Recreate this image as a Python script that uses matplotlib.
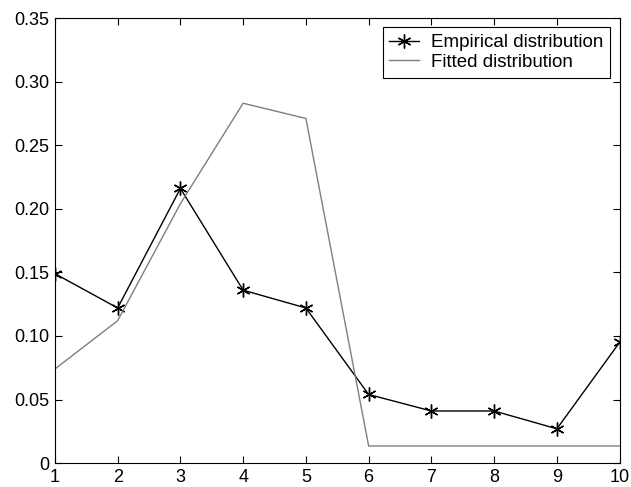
import matplotlib
matplotlib.use("Agg")
import matplotlib.pyplot as plt

plt.rcParams['font.family'] = ['Liberation Sans', 'DejaVu Sans']

x = [1, 2, 3, 4, 5, 6, 7, 8, 9, 10]
empirical = [0.149, 0.122, 0.216, 0.136, 0.122, 0.054, 0.041, 0.041, 0.027, 0.095]
fitted = [0.074, 0.112, 0.204, 0.283, 0.271, 0.0135, 0.0135, 0.0135, 0.0135, 0.0135]
xticks = [1, 2, 3, 4, 5, 6, 7, 8, 9, 10]
yticks = [0, 0.05, 0.10, 0.15, 0.20, 0.25, 0.30, 0.35]
yticklabels = ['0', '0.05', '0.10', '0.15', '0.20', '0.25', '0.30', '0.35']

fig = plt.figure(figsize=(6.31, 4.87), dpi=100)
ax = fig.add_axes([0.087, 0.049, 0.895, 0.914])

ax.plot(x, empirical, color='black', lw=1.0, marker=(6, 2, 0), markersize=10,
        markeredgewidth=1.0, label='Empirical distribution')
ax.plot(x, fitted, color='#7f7f7f', lw=1.0, label='Fitted distribution')

ax.set_xlim(1, 10)
ax.set_ylim(0, 0.35)
ax.set_xticks(xticks)
ax.set_yticks(yticks)
ax.set_yticklabels(yticklabels)
ax.tick_params(direction='in', top=True, right=True, length=5, labelsize=13, width=0.8, pad=4)
for s in ax.spines.values():
    s.set_linewidth(0.8)

leg = ax.legend(loc='upper right', fontsize=13.5, fancybox=False, framealpha=1,
                edgecolor='black', borderaxespad=0.5, handlelength=1.6,
                handletextpad=0.65, borderpad=0.35, labelspacing=0.15)
leg.get_frame().set_linewidth(0.8)

fig.savefig('out.png', dpi=100)
